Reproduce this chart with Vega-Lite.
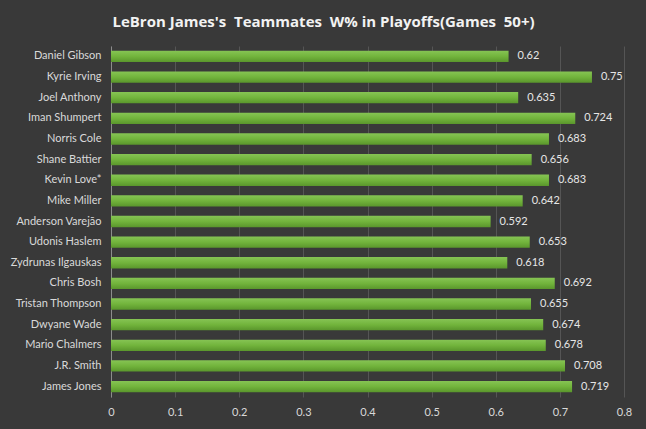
{
  "$schema": "https://vega.github.io/schema/vega-lite/v6.json",
  "width": 513,
  "height": 351,
  "autosize": {"type": "none"},
  "padding": {"left": 111, "top": 46, "right": 22, "bottom": 32},
  "background": "#393939",
  "title": {
    "text": "LeBron James's\u00a0\u00a0Teammates\u00a0\u00a0W%\u00a0in\u00a0Playoffs(Games\u00a0\u00a050+)",
    "font": "Open Sans",
    "fontSize": 15,
    "fontWeight": "bold",
    "color": "#f2f2f2",
    "anchor": "middle",
    "dx": -44,
    "offset": 16
  },
  "config": {
    "view": {"stroke": null},
    "font": "Lato"
  },
  "data": {
    "values": [
      {"player": "Daniel Gibson", "w": 0.62},
      {"player": "Kyrie Irving", "w": 0.75},
      {"player": "Joel Anthony", "w": 0.635},
      {"player": "Iman Shumpert", "w": 0.724},
      {"player": "Norris Cole", "w": 0.683},
      {"player": "Shane Battier", "w": 0.656},
      {"player": "Kevin Love*", "w": 0.683},
      {"player": "Mike Miller", "w": 0.642},
      {"player": "Anderson Varejão", "w": 0.592},
      {"player": "Udonis Haslem", "w": 0.653},
      {"player": "Zydrunas Ilgauskas", "w": 0.618},
      {"player": "Chris Bosh", "w": 0.692},
      {"player": "Tristan Thompson", "w": 0.655},
      {"player": "Dwyane Wade", "w": 0.674},
      {"player": "Mario Chalmers", "w": 0.678},
      {"player": "J.R. Smith", "w": 0.708},
      {"player": "James Jones", "w": 0.719}
    ]
  },
  "encoding": {
    "y": {
      "field": "player",
      "type": "nominal",
      "sort": null,
      "scale": {"paddingInner": 0.45, "paddingOuter": 0.23},
      "axis": {
        "title": null,
        "ticks": false,
        "labelColor": "#d9d9d9",
        "labelFontSize": 11,
        "labelFont": "Lato",
        "labelPadding": 10,
        "domainColor": "#8c8c8c",
        "domainWidth": 1
      }
    },
    "x": {
      "field": "w",
      "type": "quantitative",
      "scale": {"domain": [0, 0.8], "nice": false},
      "axis": {
        "title": null,
        "values": [0, 0.1, 0.2, 0.3, 0.4, 0.5, 0.6, 0.7, 0.8],
        "format": ".1~f",
        "ticks": false,
        "domain": false,
        "grid": true,
        "gridColor": "#555555",
        "gridWidth": 1,
        "labelColor": "#d9d9d9",
        "labelFontSize": 11,
        "labelFont": "Lato",
        "labelPadding": 9,
        "labelFlush": false
      }
    }
  },
  "layer": [
    {
      "mark": {
        "type": "bar",
        "color": {
          "gradient": "linear",
          "x1": 0, "y1": 0, "x2": 0, "y2": 1,
          "stops": [
            {"offset": 0, "color": "#86c454"},
            {"offset": 0.5, "color": "#72b43c"},
            {"offset": 1, "color": "#5a962c"}
          ]
        }
      }
    },
    {
      "mark": {
        "type": "text",
        "align": "left",
        "baseline": "middle",
        "dx": 9,
        "font": "Lato",
        "fontSize": 11,
        "color": "#e6e6e6"
      },
      "encoding": {
        "text": {"field": "w", "type": "quantitative"}
      }
    }
  ]
}
